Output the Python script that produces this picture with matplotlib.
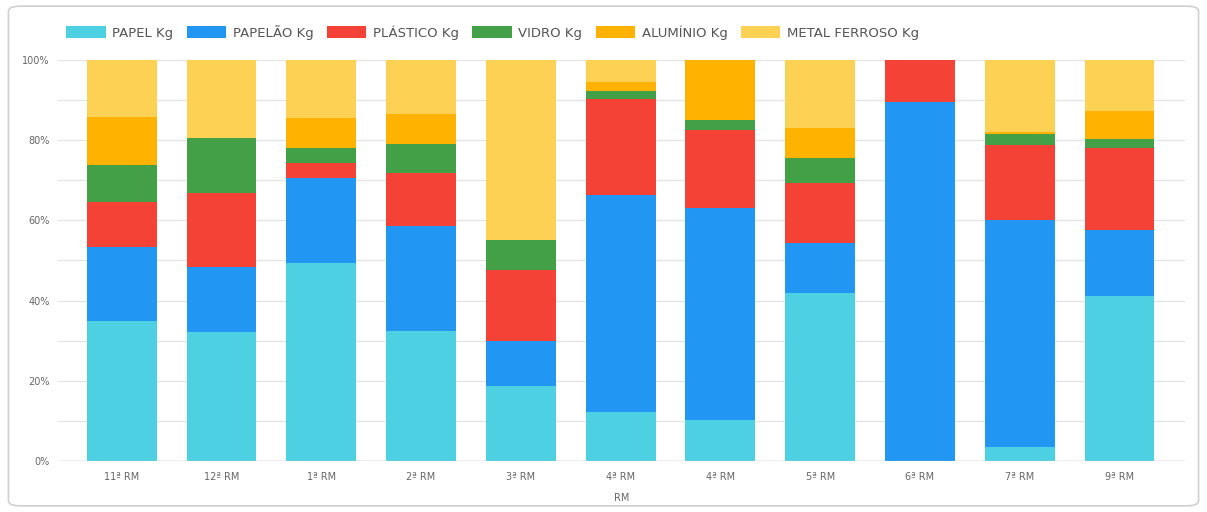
import numpy as np
import matplotlib.pyplot as plt
from matplotlib.patches import FancyBboxPatch
from matplotlib.ticker import MultipleLocator, PercentFormatter

# Regiões militares (eixo x)
regioes = ['11ª RM', '12ª RM', '1ª RM', '2ª RM', '3ª RM', '4ª RM',
           '4ª RM', '5ª RM', '6ª RM', '7ª RM', '9ª RM']

# Participação (%) de cada material
papel    = [34.9, 32.2, 49.3, 32.4, 18.6, 12.1, 10.2, 41.8,  0.0,  3.6, 41.2]
papelao  = [18.5, 16.1, 21.2, 26.1, 11.2, 54.1, 53.0, 12.5, 89.4, 56.4, 16.4]
plastico = [11.1, 18.6,  3.9, 13.3, 17.8, 24.0, 19.3, 15.0, 10.6, 18.8, 20.4]
vidro    = [ 9.3, 13.6,  3.6,  7.2,  7.5,  2.1,  2.5,  6.2,  0.0,  2.7,  2.3]
aluminio = [11.9,  0.0,  7.5,  7.5,  0.0,  2.1, 15.0,  7.5,  0.0,  0.5,  6.9]
metal    = [14.3, 19.5, 14.5, 13.5, 44.9,  5.6,  0.0, 17.0,  0.0, 18.0, 12.8]

series = [
    ('PAPEL Kg', papel, '#4dd0e1'),
    ('PAPELÃO Kg', papelao, '#2196f3'),
    ('PLÁSTICO Kg', plastico, '#f44336'),
    ('VIDRO Kg', vidro, '#43a047'),
    ('ALUMÍNIO Kg', aluminio, '#ffb300'),
    ('METAL FERROSO Kg', metal, '#fdd154'),
]

fig = plt.figure(figsize=(12.07, 5.12), dpi=100)
ax = fig.add_axes([0.048, 0.0996, 0.934, 0.7834])

# Normaliza para 100%
dados = np.array([s[1] for s in series], dtype=float)
dados = dados / dados.sum(axis=0) * 100

x = np.arange(len(regioes))
base = np.zeros(len(regioes))
for (nome, _, cor), vals in zip(series, dados):
    ax.bar(x, vals, 0.70, bottom=base, color=cor, label=nome, zorder=3)
    base += vals

ax.set_xlim(-0.64, 10.66)
ax.set_ylim(0, 100)
ax.yaxis.set_major_locator(MultipleLocator(20))
ax.yaxis.set_minor_locator(MultipleLocator(10))
ax.yaxis.set_major_formatter(PercentFormatter(decimals=0))
ax.grid(axis='y', which='both', color='#e4e4e4', linewidth=0.9, zorder=0)
ax.axhline(0, color='#bdbdbd', linewidth=1, zorder=4)

for s in ax.spines.values():
    s.set_visible(False)
ax.tick_params(axis='both', which='both', length=0, labelsize=7, colors='#666666')
ax.tick_params(axis='y', pad=6)
ax.tick_params(axis='x', pad=8)
ax.set_xticks(x)
ax.set_xticklabels(regioes)
ax.set_xlabel('RM', fontsize=7, color='#666666', labelpad=8)

fig.legend(loc='upper left', bbox_to_anchor=(0.045, 0.975), ncol=6, frameon=False,
           fontsize=9.5, handlelength=3.0, handleheight=1.0, handletextpad=0.5,
           columnspacing=1.0, labelcolor='#555555')

# Moldura do gráfico
moldura = FancyBboxPatch((0.007, 0.012), 0.986, 0.976, boxstyle='round,pad=0,rounding_size=0.01',
                         transform=fig.transFigure, facecolor='none', edgecolor='#d0d0d0', linewidth=1.2)
fig.patches.append(moldura)

fig.savefig('out.png', dpi=100)
